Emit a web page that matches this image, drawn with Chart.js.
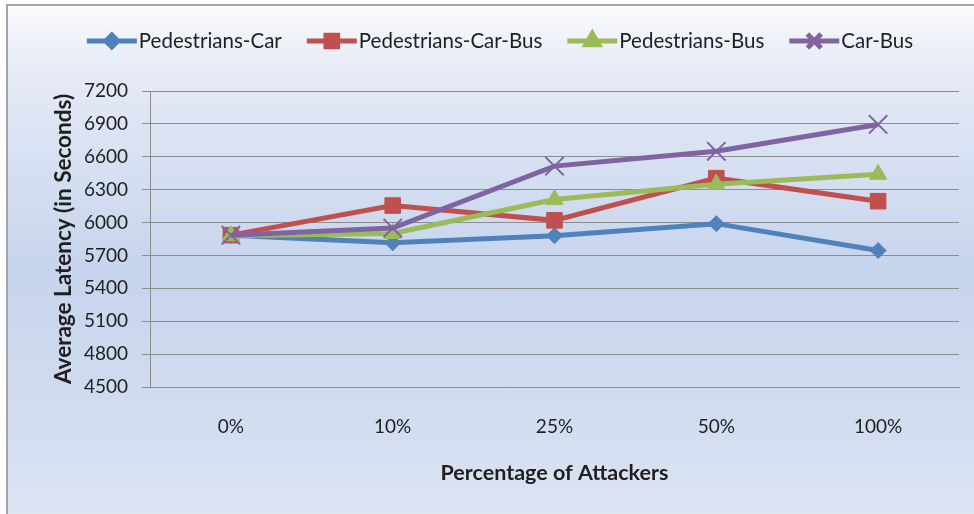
<!DOCTYPE html>
<html lang="en">
<head>
  <meta charset="UTF-8">
  <title>Average Latency vs Percentage of Attackers</title>
  <script src="https://cdn.jsdelivr.net/npm/chart.js@4.4.7/dist/chart.umd.min.js"></script>
  <style>
    * { margin: 0; padding: 0; box-sizing: border-box; }
    body { width: 974px; height: 514px; background: #fff; overflow: hidden; position: relative; }
    .frame {
      position: absolute;
      left: 6px; top: 4px;
      width: 990px; height: 530px;
      border: 2px solid #a3a3a3;
      background: linear-gradient(180deg, #f9fafd 0%, #e6ebf6 12%, #c6d4ed 50%, #d3ddf0 80%, #dfe6f3 100%);
    }
    .chart-box { position: absolute; left: 0; top: 0; width: 974px; height: 514px; }
  </style>
</head>
<body>
  <div class="frame"></div>
  <div class="chart-box">
    <canvas id="latencyChart" width="974" height="514"></canvas>
  </div>

  <script>
    const categories = ['0%', '10%', '25%', '50%', '100%'];
    const seriesNames = ['Pedestrians-Car', 'Pedestrians-Car-Bus', 'Pedestrians-Bus', 'Car-Bus'];
    const pedestriansCar = [5885, 5815, 5880, 5990, 5745];
    const pedestriansCarBus = [5885, 6155, 6020, 6405, 6195];
    const pedestriansBus = [5880, 5900, 6210, 6350, 6440];
    const carBus = [5885, 5950, 6515, 6650, 6895];
    const yTicks = [4500, 4800, 5100, 5400, 5700, 6000, 6300, 6600, 6900, 7200];

    const colors = ['#4f81bd', '#c0504d', '#9bbb59', '#8064a2'];
    const markers = ['rectRot', 'rect', 'triangle', 'crossRot'];
    const markerSizes = [8, 11, 10, 13];
    const values = [pedestriansCar, pedestriansCarBus, pedestriansBus, carBus];

    const fontFamily = "Lato, 'Open Sans', sans-serif";
    const textColor = '#1f1f1f';
    const gridColor = '#8c8c8c';

    // legend: short line with the series marker in the middle, text right after it
    const lineLegend = {
      id: 'lineLegend',
      afterDraw(chart) {
        const ctx = chart.ctx;
        const lineLen = 50, gap = 2, itemGap = 25, y = 41;
        ctx.save();
        ctx.font = '20.5px ' + fontFamily;
        const widths = seriesNames.map(n => ctx.measureText(n).width);
        const total = widths.reduce((a, w) => a + lineLen + gap + w, 0) + itemGap * (seriesNames.length - 1);
        let x = 500 - total / 2;
        chart.data.datasets.forEach((ds, i) => {
          ctx.strokeStyle = ds.borderColor;
          ctx.lineWidth = 5;
          ctx.beginPath();
          ctx.moveTo(x, y);
          ctx.lineTo(x + lineLen, y);
          ctx.stroke();
          ctx.fillStyle = ds.pointBackgroundColor;
          ctx.strokeStyle = ds.pointBorderColor;
          Chart.helpers.drawPoint(ctx, {
            pointStyle: ds.pointStyle,
            radius: ds.pointRadius * 0.75,
            borderWidth: ds.pointBorderWidth
          }, x + lineLen / 2, y);
          ctx.fillStyle = textColor;
          ctx.textAlign = 'left';
          ctx.textBaseline = 'middle';
          ctx.fillText(seriesNames[i], x + lineLen + gap, y);
          x += lineLen + gap + widths[i] + itemGap;
        });
        ctx.restore();
      }
    };

    const ctx = document.getElementById('latencyChart').getContext('2d');

    new Chart(ctx, {
      type: 'line',
      data: {
        labels: categories,
        datasets: seriesNames.map((name, i) => ({
          label: name,
          data: values[i],
          borderColor: colors[i],
          backgroundColor: colors[i],
          borderWidth: 5,
          pointStyle: markers[i],
          pointRadius: markerSizes[i],
          pointHoverRadius: markerSizes[i],
          pointBackgroundColor: colors[i],
          pointBorderColor: colors[i],
          pointBorderWidth: markers[i] === 'crossRot' ? 2 : 1,
          tension: 0,
          fill: false,
          order: seriesNames.length - i
        }))
      },
      options: {
        responsive: false,
        animation: false,
        layout: { padding: { top: 91, right: 12, bottom: 0, left: 50 } },
        plugins: {
          legend: { display: false },
          tooltip: { enabled: false }
        },
        scales: {
          x: {
            offset: true,
            grid: { display: false, drawTicks: false },
            border: { display: true, color: gridColor, width: 1 },
            ticks: { color: textColor, font: { family: fontFamily, size: 19 }, padding: 28 },
            title: {
              display: true,
              text: 'Percentage of Attackers',
              color: textColor,
              font: { family: fontFamily, size: 21.5, weight: 'bold' },
              padding: { top: 0, bottom: 28 }
            },
            afterFit(scale) { scale.height = 127; }
          },
          y: {
            min: 4500,
            max: 7200,
            afterBuildTicks(scale) { scale.ticks = yTicks.map(v => ({ value: v })); },
            grid: { color: gridColor, lineWidth: 1, tickLength: 8 },
            border: { display: true, color: gridColor, width: 1 },
            ticks: {
              color: textColor,
              font: { family: fontFamily, size: 19 },
              padding: 14,
              callback: value => String(value)
            },
            title: {
              display: true,
              text: 'Average Latency (in Seconds)',
              color: textColor,
              font: { family: fontFamily, size: 22.5, weight: 'bold' },
              padding: { top: 0, bottom: 0 }
            },
            afterFit(scale) { scale.width = 100; }
          }
        }
      },
      plugins: [lineLegend]
    });
  </script>
</body>
</html>
